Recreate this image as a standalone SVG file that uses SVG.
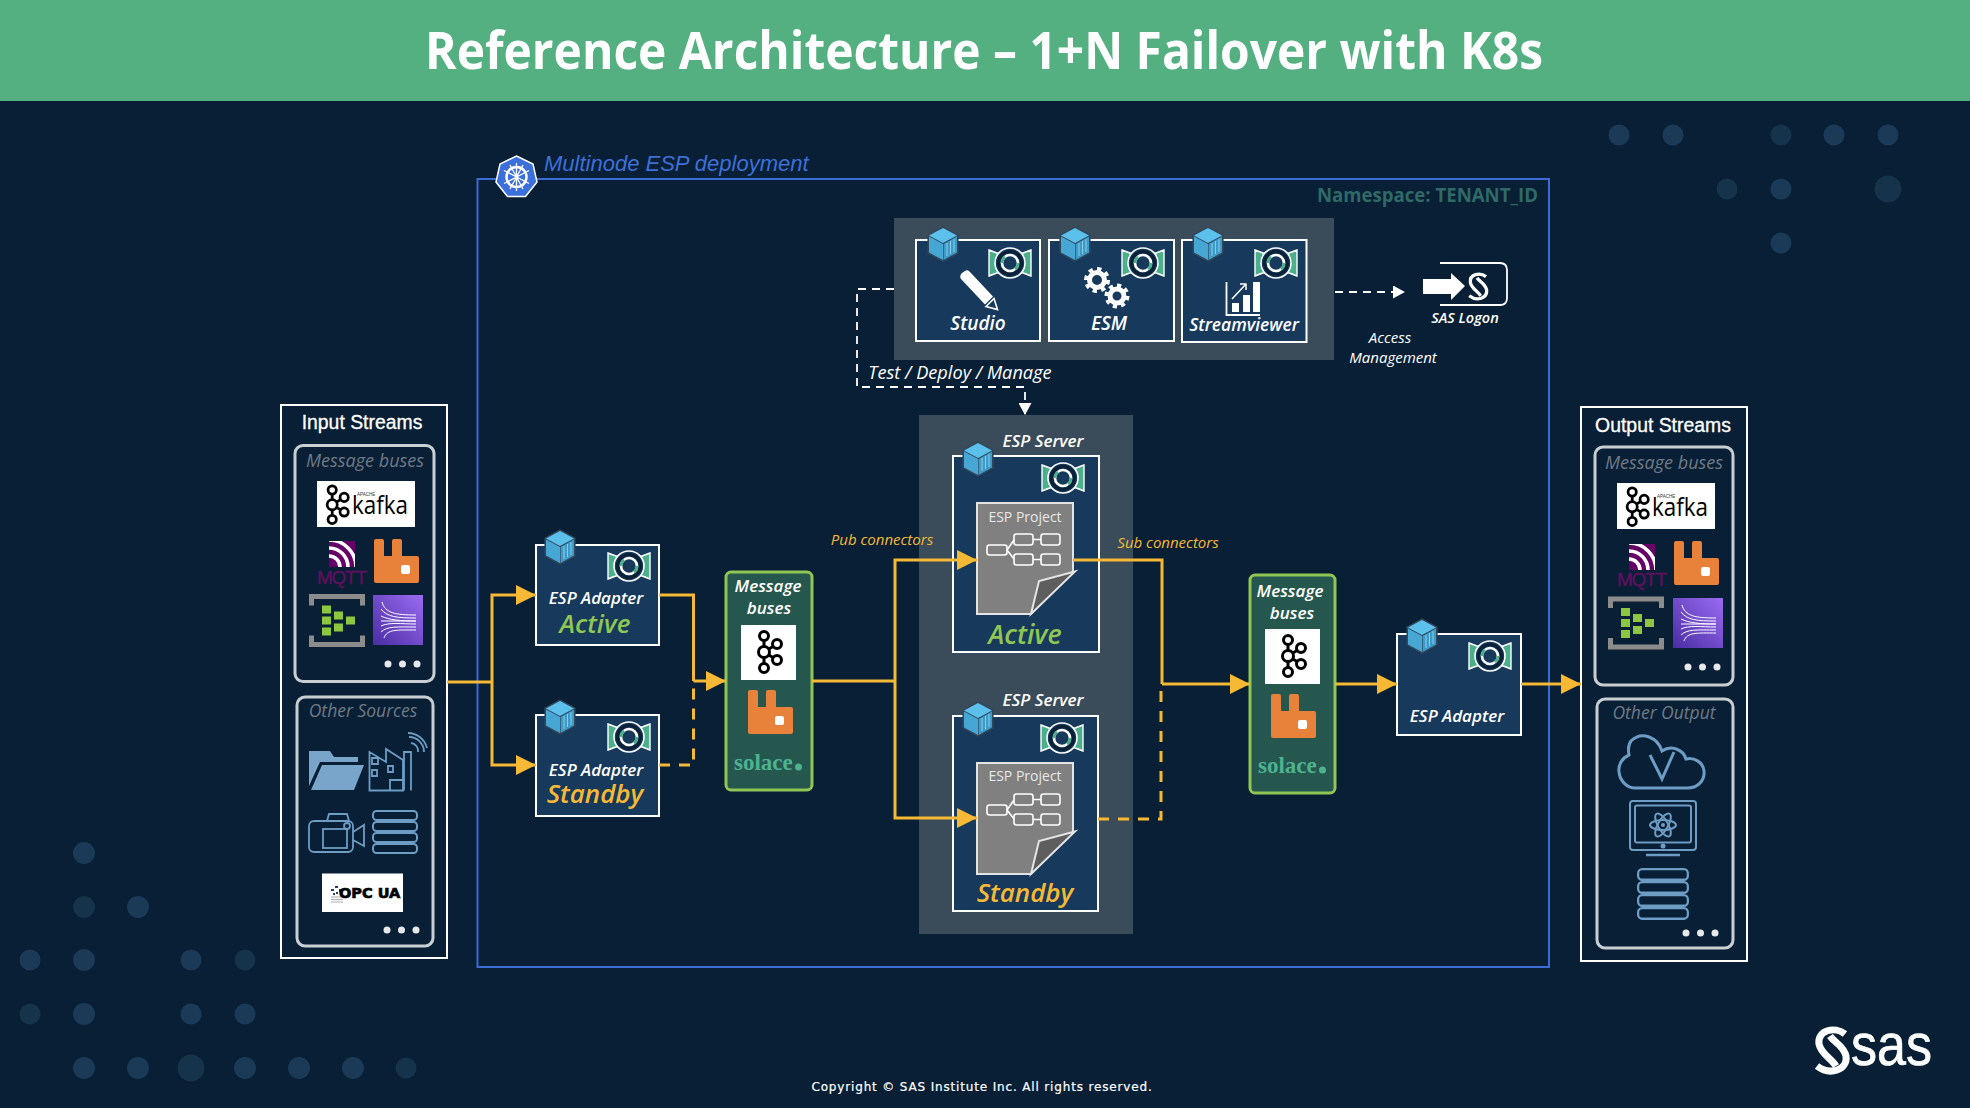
<svg xmlns="http://www.w3.org/2000/svg" width="1970" height="1108" viewBox="0 0 1970 1108">
<style>
.i{font-family:"Open Sans","DejaVu Sans",sans-serif;font-style:italic;text-anchor:middle}
.w{fill:#fff}
.a{font-family:"Liberation Sans",Arial,sans-serif;fill:#fff;text-anchor:middle;font-size:19.400px;stroke:#fff;stroke-width:.3}
.g{fill:#6F7A86;font-size:18px}
.box{fill:#16395C;stroke:#fff;stroke-width:2}
.outer{fill:none;stroke:#fff;stroke-width:2}
.inner{fill:none;stroke:#C9CED2;stroke-width:3}
.mb{fill:#25574F;stroke:#8FC654;stroke-width:3}
.panel{fill:#3A4B5A}
.yl{fill:none;stroke:#F5B935;stroke-width:3}
.dy{stroke-dasharray:11 9}
.wd{fill:none;stroke:#fff;stroke-width:1.8;stroke-dasharray:8 6}
.o{fill:none;stroke:#6D9CC4;stroke-width:1.8}
.dot{fill:#E6E8EA}
.bg1{fill:#1B3A58}
.bg2{fill:#15334B}
.st{font-size:26px;font-weight:600}
.act{fill:#8FC654}
.sby{fill:#F5B935}
.lb{font-size:17px;font-weight:600;fill:#fff}
.cn{font-size:15px;fill:#F5B935}
.doc{fill:#808080;stroke:#E4E4E4;stroke-width:2}
.fold{fill:#5E5E5E;stroke:#E4E4E4;stroke-width:2}
.fl{fill:none;stroke:#fff;stroke-width:1.6}
.sol{font-family:"Liberation Serif",serif;font-weight:700;font-size:23px;fill:#4DB38F}
</style>
<defs>
<marker id="ah" markerUnits="userSpaceOnUse" markerWidth="20" markerHeight="20" refX="20" refY="10" orient="auto"><path d="M0,0L20,10L0,20Z" fill="#F5B935"/></marker>
<marker id="wh" markerUnits="userSpaceOnUse" markerWidth="12" markerHeight="13" refX="12" refY="6.5" orient="auto"><path d="M0,0L12,6.5L0,13Z" fill="#fff"/></marker>
<linearGradient id="kin" x1="1" y1="0" x2="0" y2="1"><stop offset="0" stop-color="#9A6BF0"/><stop offset="1" stop-color="#4A2DA5"/></linearGradient>
<clipPath id="mq"><rect width="26" height="26"/></clipPath>
<g id="cube">
<path d="M15,0L30,8V26L15,34L0,26V8Z" fill="#33475A" stroke="#33475A" stroke-width="1.2"/>
<path d="M15,1L29,8.5L15,16L1,8.5Z" fill="#5CC0EC"/>
<path d="M1,9.5L15,17V33L1,25.5Z" fill="#46A6D4"/>
<path d="M15.6,17L29,9.5V25.5L15.6,33Z" fill="#3D9BC9"/>
<path d="M19,16V29M22.5,14V27M26,12V25" stroke="#8CCDE8" stroke-width="1" fill="none"/>
</g>
<g id="esp">
<path d="M1,3C8,6 12,7 16,8V24C12,25 8,26 1,29Z" fill="#4CAF8C" stroke="#fff" stroke-width="1.4"/>
<path d="M43,3C36,6 32,7 28,8V24C32,25 36,26 43,29Z" fill="#4CAF8C" stroke="#fff" stroke-width="1.4"/>
<circle cx="22" cy="16" r="15" fill="#16395C" stroke="#fff" stroke-width="1.6"/>
<circle cx="22" cy="16" r="11.5" fill="none" stroke="#0A2036" stroke-width="3"/>
<circle cx="22" cy="16" r="8" fill="#16395C" stroke="#fff" stroke-width="2.6"/>
<path d="M14,16A8,8 0 0 1 17,9.8M30,16A8,8 0 0 1 27,22.2" fill="none" stroke="#4CAF8C" stroke-width="2.8"/>
</g>
<g id="kaf" fill="#fff" stroke="#000" stroke-width="3">
<path d="M10,7V37M10,22L23,14M10,22L23,30" fill="none"/>
<circle cx="10" cy="6" r="4.5"/><circle cx="10" cy="22" r="5.5"/><circle cx="10" cy="38" r="4.5"/><circle cx="23" cy="14" r="4.5"/><circle cx="23" cy="30" r="4.5"/>
</g>
<g id="rab">
<path d="M2,0H8Q10,0 10,2V17H18V2Q18,0 20,0H26Q28,0 28,2V17H43Q45,17 45,19V42Q45,44 43,44H2Q0,44 0,42V2Q0,0 2,0Z" fill="#E8813A"/>
<rect x="27" y="26" width="9" height="9" rx="2" fill="#fff"/>
</g>
<g id="mqt">
<rect width="26" height="26" fill="#660066"/>
<g clip-path="url(#mq)" fill="none" stroke="#fff" stroke-width="3.6"><circle cx="0" cy="26" r="11"/><circle cx="0" cy="26" r="19"/><circle cx="0" cy="26" r="27"/></g>
</g>
<g id="azu">
<path d="M2.5,12V3H53.5V12M2.5,42V51H53.5V42" fill="none" stroke="#8C8C8C" stroke-width="5"/>
<g fill="#8DC63F"><rect x="13" y="12" width="9" height="8"/><rect x="13" y="23" width="9" height="8"/><rect x="13" y="34" width="9" height="8"/><rect x="25" y="18" width="9" height="8"/><rect x="25" y="30" width="9" height="8"/><rect x="37" y="23" width="9" height="8"/></g>
</g>
<g id="kis">
<rect width="50" height="50" fill="url(#kin)"/>
<path d="M9,7C12,18 22,20 43,20M8,14C14,22 24,23 43,23M8,21C16,25 28,26 43,26M8,26H43M8,31C16,27 28,29 43,29M8,37C14,31 24,32 43,32M11,43C14,34 24,35 43,35" fill="none" stroke="#fff" stroke-width="1"/>
</g>
<g id="db" fill="none" stroke="#6D9CC4" stroke-width="2">
<rect x="1" y="1" width="44" height="9" rx="3.5"/><rect x="1" y="12" width="44" height="9" rx="3.5"/><rect x="1" y="23" width="44" height="9" rx="3.5"/><rect x="1" y="34" width="44" height="9" rx="3.5"/>
</g>
<g id="prj">
<path class="doc" d="M0,0H96V69L54,111H0Z"/>
<path class="fold" d="M98,68.500L62,78L54,111Z"/>
<g class="fl">
<rect x="10" y="42" width="20" height="10" rx="2.500"/><rect x="37" y="31" width="19" height="11" rx="2.500"/><rect x="64" y="31" width="19" height="11" rx="2.500"/><rect x="37" y="51" width="19" height="11" rx="2.500"/><rect x="64" y="51" width="19" height="11" rx="2.500"/>
<path d="M30,47L37,37M30,47L37,56M56,36.500H64M56,56.500H64"/>
</g>
</g>
<g id="dots"><circle cx="0" cy="0" r="3.500" class="dot"/><circle cx="14.500" cy="0" r="3.500" class="dot"/><circle cx="29" cy="0" r="3.500" class="dot"/></g>
<path id="sasS" d="M30,6C20,-2 2,2 4,16C6,26 16,30 21,38M2,38C15,48 33,42 31,28C29,18 19,14 15,8" fill="none" stroke="#fff"/>
</defs>

<rect width="1970" height="1108" fill="#081F35"/>
<g id="background-dots">
<circle class="bg1" cx="1619" cy="135" r="10.500"/><circle class="bg1" cx="1673" cy="135" r="10.500"/><circle class="bg2" cx="1781" cy="135" r="10.500"/><circle class="bg1" cx="1834" cy="135" r="10.500"/><circle class="bg1" cx="1888" cy="135" r="10.500"/>
<circle class="bg2" cx="1727" cy="189" r="10.500"/><circle class="bg1" cx="1781" cy="189" r="10.500"/><circle class="bg2" cx="1888" cy="189" r="13.500"/><circle class="bg1" cx="1781" cy="243" r="10.500"/>
<circle class="bg1" cx="84" cy="853" r="11"/><circle class="bg2" cx="84" cy="907" r="11"/><circle class="bg1" cx="138" cy="907" r="11"/>
<circle class="bg1" cx="30" cy="960" r="10.500"/><circle class="bg1" cx="84" cy="960" r="11"/><circle class="bg1" cx="191" cy="960" r="10.500"/><circle class="bg2" cx="245" cy="960" r="10.500"/>
<circle class="bg2" cx="30" cy="1014" r="10.500"/><circle class="bg1" cx="84" cy="1014" r="11"/><circle class="bg1" cx="191" cy="1014" r="10.500"/><circle class="bg1" cx="245" cy="1014" r="10.500"/>
<circle class="bg1" cx="84" cy="1068" r="11"/><circle class="bg1" cx="138" cy="1068" r="11"/><circle class="bg2" cx="191" cy="1068" r="13.500"/><circle class="bg1" cx="245" cy="1068" r="11"/><circle class="bg1" cx="299" cy="1068" r="11"/><circle class="bg1" cx="353" cy="1068" r="11"/><circle class="bg2" cx="406" cy="1068" r="10.500"/>
</g>

<g id="header">
<rect width="1970" height="101" fill="#54B080"/>
<text x="984" y="69" text-anchor="middle" font-family="'Open Sans','DejaVu Sans',sans-serif" font-weight="700" font-size="52" fill="#fff" textLength="1118" lengthAdjust="spacingAndGlyphs">Reference Architecture – 1+N Failover with K8s</text>
</g>

<g id="k8s-namespace">
<rect x="477.500" y="179" width="1071.500" height="788" fill="none" stroke="#3B6BD6" stroke-width="2"/>
<path d="M516.500,156L533,164L537,182L525.500,196.500H507.500L496,182L500,164Z" fill="#3B6FDC" stroke="#fff" stroke-width="1.500"/>
<g fill="none" stroke="#fff"><circle cx="516.500" cy="177" r="10" stroke-width="2.500"/><path d="M516.500,163V191M504,170.500L529,183.500M504,183.500L529,170.500M510,165L523,189M523,165L510,189" stroke-width="1.300"/></g>
<text x="544" y="171" font-family="'Liberation Sans',Arial,sans-serif" font-style="italic" font-size="22" fill="#3F6FD8">Multinode ESP deployment</text>
<text x="1538" y="202" text-anchor="end" font-family="'Open Sans','DejaVu Sans',sans-serif" font-weight="700" font-size="19" fill="#2F6A66" textLength="221" lengthAdjust="spacingAndGlyphs">Namespace: TENANT_ID</text>
</g>

<g id="input-streams">
<rect class="outer" x="281" y="405" width="166" height="553"/>
<text class="a" x="362" y="429">Input Streams</text>
<rect class="inner" x="295" y="445.500" width="139" height="236" rx="8"/>
<text class="i g" x="365" y="467">Message buses</text>
<rect x="317" y="481" width="98" height="46" fill="#fff"/>
<use href="#kaf" transform="translate(323,484.500) scale(.92)"/>
<text x="352" y="514" font-family="'Open Sans','Liberation Sans',sans-serif" font-size="25" fill="#000" textLength="56" lengthAdjust="spacingAndGlyphs">kafka</text>
<text x="357" y="496" font-family="'Liberation Sans',sans-serif" font-size="4.500" fill="#333">APACHE</text>
<use href="#mqt" transform="translate(329,541)"/>
<text x="342" y="584" text-anchor="middle" font-family="'Liberation Sans',Arial,sans-serif" font-size="19" fill="#5E1060" stroke="#5E1060" stroke-width=".4" textLength="50">MQTT</text>
<use href="#rab" transform="translate(374,539)"/>
<use href="#azu" transform="translate(309,593.500)"/>
<use href="#kis" transform="translate(373,595)"/>
<use href="#dots" transform="translate(388,664)"/>
<rect class="inner" x="297" y="697" width="136" height="249" rx="8"/>
<text class="i g" x="363" y="717" style="font-size:17.500px">Other Sources</text>
<path d="M309,790V751H330L334,757H358V762H320L309,786ZM311,790L322,765H364L354,790Z" fill="#7AA5CB"/>
<g class="o"><path d="M369.500,790.500V752L386,762V749L403,760V790.500ZM404,790.500V752H411V790.500M372,758h6v6h-6zM372,770h5v6h-5zM388,766h5v6h-5zM390,790V780H403V790"/><path d="M411,743A8,8 0 0 1 418,752M409,737A15,15 0 0 1 424,752M408,733A20,20 0 0 1 427,748"/></g>
<g class="o" stroke-width="2"><rect x="309" y="821" width="44" height="31" rx="5"/><path d="M353,832L364,825V846L353,840M327,821L329,814H347L349,821"/><rect x="323" y="829" width="24" height="19"/><circle cx="347" cy="826" r="3"/></g>
<use href="#db" transform="translate(372,810)"/>
<rect x="322" y="873.500" width="81" height="38.500" fill="#fff"/>
<g fill="#27405F"><rect x="331" y="889" width="3" height="2"/><rect x="335" y="886" width="3" height="2"/><rect x="336" y="892" width="2" height="2"/><rect x="339" y="889" width="3" height="3"/><rect x="333" y="893" width="2" height="2"/></g>
<path d="M331,897H343M331,899.500H343M331,902H343" stroke="#888" stroke-width=".7"/>
<text x="339" y="898" font-family="'DejaVu Sans',sans-serif" font-weight="700" font-size="14.500" fill="#000" stroke="#000" stroke-width=".7">OPC UA</text>
<use href="#dots" transform="translate(387,930)"/>
</g>

<g id="adapter-active">
<rect class="box" x="536" y="545" width="123" height="100"/>
<use href="#cube" transform="translate(545,530)"/>
<use href="#esp" transform="translate(607,550)"/>
<text class="i lb" x="596" y="604">ESP Adapter</text>
<text class="i st act" x="595" y="633">Active</text>
</g>
<g id="adapter-standby">
<rect class="box" x="536" y="715" width="123" height="101"/>
<use href="#cube" transform="translate(545,700)"/>
<use href="#esp" transform="translate(607,721)"/>
<text class="i lb" x="596" y="776">ESP Adapter</text>
<text class="i st sby" x="595" y="803">Standby</text>
</g>

<g id="bus-pub">
<rect class="mb" x="726" y="572" width="86" height="218" rx="5"/>
<text class="i lb" x="768" y="592">Message</text>
<text class="i lb" x="769" y="614">buses</text>
<rect x="741" y="625" width="55" height="55" fill="#fff"/>
<use href="#kaf" transform="translate(754,630)"/>
<use href="#rab" transform="translate(748,690)"/>
<text class="sol" x="734" y="770">solace</text>
<circle cx="798.500" cy="767" r="3.500" fill="#4DB38F"/>
</g>

<rect id="server-panel" class="panel" x="919" y="415" width="214" height="519"/>
<g id="server-active">
<text class="i lb" x="1043" y="447">ESP Server</text>
<rect class="box" x="953" y="456" width="146" height="196"/>
<use href="#cube" transform="translate(963,442)"/>
<use href="#esp" transform="translate(1041,462)"/>
<use href="#prj" transform="translate(977,503)"/>
<text x="1025" y="522" text-anchor="middle" font-family="'Open Sans',sans-serif" font-size="14" fill="#E8E8E8">ESP Project</text>
<text class="i st act" x="1025" y="644" style="font-size:27px">Active</text>
</g>
<g id="server-standby">
<text class="i lb" x="1043" y="706">ESP Server</text>
<rect class="box" x="953" y="716" width="145" height="195"/>
<use href="#cube" transform="translate(963,702)"/>
<use href="#esp" transform="translate(1040,722)"/>
<use href="#prj" transform="translate(977,763)"/>
<text x="1025" y="781" text-anchor="middle" font-family="'Open Sans',sans-serif" font-size="14" fill="#E8E8E8">ESP Project</text>
<text class="i st sby" x="1025" y="902" style="font-size:26px">Standby</text>
</g>

<rect id="tools-panel" class="panel" x="894" y="218" width="440" height="142"/>
<g id="studio">
<rect class="box" x="916" y="240" width="124" height="101"/>
<use href="#cube" transform="translate(928,227)"/>
<use href="#esp" transform="translate(988,247)"/>
<path d="M961,279Q959,276 962,273L965,271Q968,269 970,272L993,296.500L985,304.500Z" fill="#fff"/>
<path d="M986,306.500L994,298.500L997.500,309.500Z" fill="#16395C" stroke="#fff" stroke-width="1.600"/>
<text class="i lb" x="978" y="330" style="font-size:19px">Studio</text>
</g>
<g id="esm">
<rect class="box" x="1049" y="240" width="125" height="101"/>
<use href="#cube" transform="translate(1060,227)"/>
<use href="#esp" transform="translate(1121,247)"/>
<g fill="none" stroke="#fff"><circle cx="1097" cy="280" r="7.500" stroke-width="5"/><circle cx="1097" cy="280" r="11" stroke-width="4" stroke-dasharray="4.300 4.300"/><circle cx="1117" cy="296" r="7" stroke-width="5"/><circle cx="1117" cy="296" r="10.500" stroke-width="4" stroke-dasharray="4.100 4.100"/></g>
<text class="i lb" x="1109" y="330" style="font-size:19px">ESM</text>
</g>
<g id="streamviewer">
<rect class="box" x="1182" y="240" width="124.500" height="102"/>
<use href="#cube" transform="translate(1193,227)"/>
<use href="#esp" transform="translate(1254,247)"/>
<path d="M1226.500,282V315H1260" fill="none" stroke="#fff" stroke-width="1.800"/>
<g fill="#fff"><rect x="1232" y="303" width="7" height="9"/><rect x="1243" y="295" width="7" height="17"/><rect x="1253" y="282" width="7" height="30"/></g>
<path d="M1232,299L1245,285M1240,284H1246V290" fill="none" stroke="#fff" stroke-width="1.500"/>
<text class="i lb" x="1244" y="331" style="font-size:17.500px">Streamviewer</text>
</g>
<g id="sas-logon">
<path d="M1440,263H1500Q1507,263 1507,270V298Q1507,305 1500,305H1440" fill="none" stroke="#fff" stroke-width="1.800"/>
<path d="M1423,279H1451V273L1465,286L1451,300V294H1423Z" fill="#fff"/>
<use href="#sasS" transform="translate(1468,273) scale(.6)" stroke-width="5.500"/>
<text class="i" x="1465" y="323" font-size="14.500" font-weight="600" fill="#fff">SAS Logon</text>
</g>
<g id="labels">
<text class="i" x="1390" y="343" font-size="15" fill="#fff">Access</text>
<text class="i" x="1393" y="363" font-size="15" fill="#fff">Management</text>
<text class="i" x="960" y="379" font-size="18.200" fill="#fff">Test / Deploy / Manage</text>
<text class="i cn" x="882" y="545">Pub connectors</text>
<text class="i cn" x="1168" y="548">Sub connectors</text>
</g>

<g id="bus-sub">
<rect class="mb" x="1250" y="575" width="85" height="218" rx="5"/>
<text class="i lb" x="1290" y="597">Message</text>
<text class="i lb" x="1292" y="619">buses</text>
<rect x="1265" y="629" width="55" height="55" fill="#fff"/>
<use href="#kaf" transform="translate(1278,634)"/>
<use href="#rab" transform="translate(1271,694)"/>
<text class="sol" x="1258" y="773">solace</text>
<circle cx="1322.500" cy="770" r="3.500" fill="#4DB38F"/>
</g>
<g id="adapter-out">
<rect class="box" x="1397" y="634" width="124" height="101"/>
<use href="#cube" transform="translate(1407,619)"/>
<use href="#esp" transform="translate(1468,640)"/>
<text class="i lb" x="1457" y="722">ESP Adapter</text>
</g>

<g id="output-streams">
<rect class="outer" x="1581" y="407" width="166" height="554"/>
<text class="a" x="1663" y="432">Output Streams</text>
<rect class="inner" x="1595" y="447" width="138" height="238" rx="8"/>
<text class="i g" x="1664" y="469">Message buses</text>
<rect x="1617" y="483" width="98" height="46" fill="#fff"/>
<use href="#kaf" transform="translate(1623,486.500) scale(.92)"/>
<text x="1652" y="516" font-family="'Open Sans','Liberation Sans',sans-serif" font-size="25" fill="#000" textLength="56" lengthAdjust="spacingAndGlyphs">kafka</text>
<text x="1657" y="498" font-family="'Liberation Sans',sans-serif" font-size="4.500" fill="#333">APACHE</text>
<use href="#mqt" transform="translate(1629,544)"/>
<text x="1642" y="586" text-anchor="middle" font-family="'Liberation Sans',Arial,sans-serif" font-size="19" fill="#5E1060" stroke="#5E1060" stroke-width=".4" textLength="50">MQTT</text>
<use href="#rab" transform="translate(1674,541)"/>
<use href="#azu" transform="translate(1608,596)"/>
<use href="#kis" transform="translate(1673,598)"/>
<use href="#dots" transform="translate(1688,667)"/>
<rect class="inner" x="1597" y="699" width="136" height="249" rx="8"/>
<text class="i g" x="1664" y="719" style="font-size:17.500px">Other Output</text>
<g fill="none" stroke="#6D9CC4" stroke-width="3"><path d="M1635,788H1688C1698,788 1705,780 1704,771C1703,762 1694,757 1686,759C1683,749 1671,745 1662,751C1658,738 1642,730 1631,741C1628,745 1628,750 1629,755C1622,758 1618,765 1619,772C1620,781 1627,788 1635,788Z"/><path d="M1650,755L1662,779L1674,752"/></g>
<g fill="none" stroke="#6D9CC4" stroke-width="2"><rect x="1630" y="801" width="66" height="49" rx="3"/><rect x="1635" y="805.500" width="56" height="37" rx="2"/><path d="M1646,855H1680" stroke-width="2.500"/><ellipse cx="1663" cy="825" rx="13" ry="5"/><ellipse cx="1663" cy="825" rx="13" ry="5" transform="rotate(60 1663 825)"/><ellipse cx="1663" cy="825" rx="13" ry="5" transform="rotate(120 1663 825)"/></g>
<circle cx="1663" cy="846" r="2.500" fill="#6D9CC4"/><circle cx="1663" cy="825" r="2" fill="#6D9CC4"/>
<use href="#db" transform="translate(1637,868) scale(1.130,1.180)"/>
<use href="#dots" transform="translate(1686,933)"/>
</g>

<g id="connectors">
<path class="yl" d="M447,682H492"/>
<path class="yl" d="M492,682V595H536" marker-end="url(#ah)"/>
<path class="yl" d="M492,682V765H536" marker-end="url(#ah)"/>
<path class="yl" d="M659,595H693.500V681"/>
<path class="yl dy" d="M659,765H693.500V681"/>
<path class="yl" d="M693.500,681H726" marker-end="url(#ah)"/>
<path class="yl" d="M812,681H895"/>
<path class="yl" d="M895,681V560H977" marker-end="url(#ah)"/>
<path class="yl" d="M895,681V818H977" marker-end="url(#ah)"/>
<path class="yl" d="M1073,560H1162V684"/>
<path class="yl dy" d="M1098,819H1161V684"/>
<path class="yl" d="M1162,684H1250" marker-end="url(#ah)"/>
<path class="yl" d="M1335,684H1397" marker-end="url(#ah)"/>
<path class="yl" d="M1521,684H1581" marker-end="url(#ah)"/>
<path class="wd" d="M894,289H857V387H1025V415" marker-end="url(#wh)"/>
<path class="wd" d="M1335,292H1405" marker-end="url(#wh)"/>
</g>

<g id="footer">
<text x="982" y="1091" text-anchor="middle" font-family="'DejaVu Sans',sans-serif" font-size="12" fill="#fff" letter-spacing=".84" stroke="#fff" stroke-width=".2">Copyright © SAS Institute Inc. All rights reserved.</text>
<g id="sas-logo">
<use href="#sasS" transform="translate(1815,1028)" stroke-width="7"/>
<text x="1851" y="1065" font-family="'Liberation Sans',Arial,sans-serif" font-size="60" fill="#fff" stroke="#fff" stroke-width=".7" textLength="81" lengthAdjust="spacingAndGlyphs">sas</text>
</g>
</g>
</svg>
